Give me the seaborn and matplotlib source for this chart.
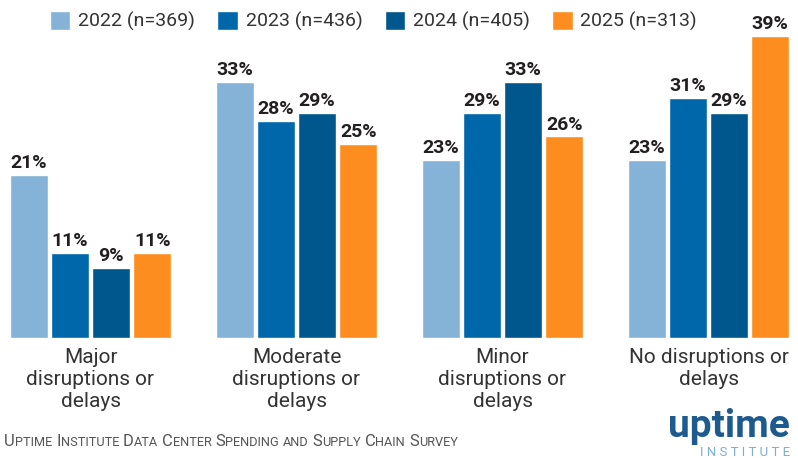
import pandas as pd
from matplotlib import pyplot as plt
import seaborn as sns
import numpy as np

# Dados
categorias = ['Major\ndisruptions or\ndelays', 'Moderate\ndisruptions or\ndelays',
              'Minor\ndisruptions or\ndelays', 'No disruptions or\ndelays']
anos = ['2022 (n=369)', '2023 (n=436)', '2024 (n=405)', '2025 (n=313)']
v2022 = [21, 33, 23, 23]
v2023 = [11, 28, 29, 31]
v2024 = [9, 29, 33, 29]
v2025 = [11, 25, 26, 39]
cores = ['#84B3D7', '#0067AB', '#00578D', '#FD8D1E']

df = pd.DataFrame({
    'Categoria': categorias * 4,
    'Ano': np.repeat(anos, 4),
    'Valor': v2022 + v2023 + v2024 + v2025,
})

sns.set_theme(style='white')
plt.rcParams['font.family'] = ['Roboto', 'DejaVu Sans']

fig = plt.figure(figsize=(7.98, 4.58), dpi=100)
ax = fig.add_axes([0, 120 / 458, 1, 338 / 458])

sns.barplot(data=df, x='Categoria', y='Valor', hue='Ano', palette=cores,
            width=0.8, gap=0.07, saturation=1, ax=ax, legend=True)

for cont in ax.containers:
    ax.bar_label(cont, labels=[f'{int(v)}%' for v in cont.datavalues], padding=2,
                 fontsize=14, fontweight='bold', color='#231F20')

ax.set_xlim(-90.5 / 206, (798 - 90.5) / 206)
ax.set_ylim(0, 338 / 7.75)
ax.set_yticks([])
ax.set_xlabel('')
ax.set_ylabel('')
ax.tick_params(axis='x', length=0, pad=7, labelsize=15, labelcolor='#333333')
for lbl in ax.get_xticklabels():
    lbl.set_linespacing(1.2)
sns.despine(ax=ax, left=True, bottom=True)

# Legenda
h, l = ax.get_legend_handles_labels()
ax.legend_.remove()
fig.legend(h, l, loc='center', bbox_to_anchor=(0.468, 0.954), ncol=4, frameon=False,
           fontsize=14, handlelength=1.05, handleheight=1.15, handletextpad=0.4,
           columnspacing=1.15, labelcolor='#333333')

# Rodapé em versalete
fig.canvas.draw()
rend = fig.canvas.get_renderer()
texto = 'Uptime Institute Data Center Spending and Supply Chain Survey'
x = 4 / 798
y = 1 - 446 / 458
for palavra in texto.split(' '):
    if palavra[0].isupper():
        partes = [(palavra[0], 12), (palavra[1:].upper(), 9.2)]
    else:
        partes = [(palavra.upper(), 9.2)]
    for s, tam in partes:
        if not s:
            continue
        t = fig.text(x, y, s, fontsize=tam, color='#555555', ha='left', va='baseline')
        bb = t.get_window_extent(renderer=rend)
        x += bb.width / fig.bbox.width
    x += 4 / 798

# Logo
fig.text(790 / 798, 1 - 437 / 458, 'uptime', fontsize=28, fontweight='bold',
         color='#1D5B8E', ha='right', va='baseline')
fig.text(790 / 798, 1 - 456 / 458, 'I N S T I T U T E', fontsize=9.5,
         color='#7DAFD4', ha='right', va='baseline')

plt.savefig('out.png', dpi=100)
